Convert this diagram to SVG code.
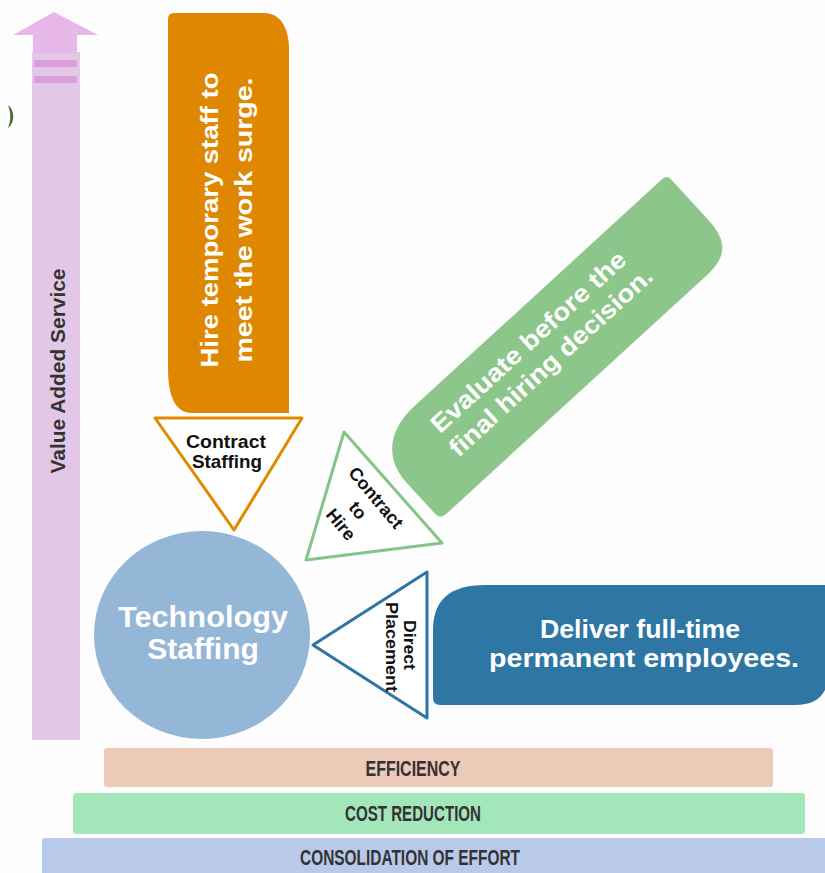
<svg xmlns="http://www.w3.org/2000/svg" width="825" height="873" viewBox="0 0 825 873">
<style>
.w{font-family:"Liberation Sans",Arial,sans-serif;font-weight:bold;fill:#ffffff;text-anchor:middle}
.k{font-family:"Liberation Sans",Arial,sans-serif;font-weight:bold;fill:#111111;text-anchor:middle}
.g{font-family:"Liberation Sans",Arial,sans-serif;font-weight:bold;fill:#333333;text-anchor:middle}
.tri{fill:#ffffff;stroke-width:3;stroke-linejoin:round}
</style>
<rect x="0" y="0" width="825" height="873" fill="#fdfdfd"/>

<g id="value-arrow">
  <rect x="32" y="52" width="48" height="688" fill="#e2c7e6"/>
  <polygon points="13,35 54,12 98,35" fill="#e7b7ea"/>
  <rect x="33" y="35" width="44" height="18" fill="#e7b7ea"/>
  <rect x="34" y="60" width="43" height="7" fill="#db9edb"/>
  <rect x="34" y="76" width="43" height="7" fill="#db9edb"/>
  <text class="g" transform="translate(65,371) rotate(-90)" font-size="20" textLength="205" lengthAdjust="spacingAndGlyphs">Value Added Service</text>
</g>

<g id="edge-mark">
  <path d="M8,105 C15,110 15,123 8,128 C11,120 11,113 8,105 Z" fill="#4e6a2c"/>
</g>

<g id="contract-box">
  <path d="M174,13 H264 C280,13 289,27 289,50 V413 H192 C176,413 168,398 168,368 V19 Q168,13 174,13 Z" fill="#df8700"/>
  <g transform="translate(0,220) rotate(-90)">
    <text class="w" x="0" y="218" font-size="24" textLength="295" lengthAdjust="spacingAndGlyphs">Hire temporary staff to</text>
    <text class="w" x="0" y="252" font-size="24" textLength="285" lengthAdjust="spacingAndGlyphs">meet the work surge.</text>
  </g>
</g>

<g id="contract-staffing">
  <polygon class="tri" points="155,418 302,418 234,530" stroke="#e08a00"/>
  <text class="k" x="226" y="448" font-size="19" textLength="80" lengthAdjust="spacingAndGlyphs">Contract</text>
  <text class="k" x="227" y="468" font-size="19" textLength="70" lengthAdjust="spacingAndGlyphs">Staffing</text>
</g>

<g id="evaluate-box">
  <g transform="translate(372,445) rotate(-42.5)">
    <path d="M0,52 C0,20 20,0 58,0 H394 Q400,0 400,6 V62 C400,88 390,101 362,101 H8 Q0,101 0,93 Z" fill="#8dc68a"/>
    <text class="w" x="185" y="38" font-size="25" textLength="255" lengthAdjust="spacingAndGlyphs">Evaluate before the</text>
    <text class="w" x="188" y="68" font-size="25" textLength="266" lengthAdjust="spacingAndGlyphs">final hiring decision.</text>
  </g>
</g>

<g id="contract-to-hire">
  <polygon class="tri" points="344,432 306,560 442,543" stroke="#84c487"/>
  <g transform="translate(359,512) rotate(50)">
    <text class="k" x="0" y="-16" font-size="18">Contract</text>
    <text class="k" x="-2" y="6" font-size="18">to</text>
    <text class="k" x="-2" y="28" font-size="18">Hire</text>
  </g>
</g>

<g id="technology-staffing">
  <ellipse cx="202" cy="635" rx="108" ry="104" fill="#94b6d7"/>
  <text class="w" x="203" y="627" font-size="30" textLength="170" lengthAdjust="spacingAndGlyphs">Technology</text>
  <text class="w" x="203" y="659" font-size="30">Staffing</text>
</g>

<g id="direct-placement">
  <polygon class="tri" points="313,645 427,572 427,718" stroke="#2e75a3" stroke-width="2.5"/>
  <g transform="translate(404,645) rotate(90)">
    <text class="k" x="0" y="0" font-size="17" textLength="50" lengthAdjust="spacingAndGlyphs">Direct</text>
    <text class="k" x="2" y="18" font-size="17" textLength="90" lengthAdjust="spacingAndGlyphs">Placement</text>
  </g>
</g>

<g id="deliver-box">
  <path d="M433,630 C433,600 450,585 485,585 H825 V690 C820,700 810,705 795,705 H440 Q433,705 433,698 Z" fill="#2e76a4"/>
  <text class="w" x="640" y="638" font-size="26" textLength="200" lengthAdjust="spacingAndGlyphs">Deliver full-time</text>
  <text class="w" x="644" y="667" font-size="26" textLength="310" lengthAdjust="spacingAndGlyphs">permanent employees.</text>
</g>

<g id="efficiency">
  <rect x="104" y="748" width="669" height="39" rx="3" fill="#edc9b8"/>
  <text class="g" x="413" y="776" font-size="22" textLength="95" lengthAdjust="spacingAndGlyphs">EFFICIENCY</text>
</g>
<g id="cost-reduction">
  <rect x="73" y="793" width="732" height="41" rx="3" fill="#a3e6ba"/>
  <text class="g" x="413" y="821" font-size="22" textLength="136" lengthAdjust="spacingAndGlyphs">COST REDUCTION</text>
</g>
<g id="consolidation">
  <rect x="42" y="838" width="790" height="40" rx="3" fill="#b9c9ea"/>
  <text class="g" x="410" y="865" font-size="22" textLength="220" lengthAdjust="spacingAndGlyphs">CONSOLIDATION OF EFFORT</text>
</g>
<g id="connectors"/>
</svg>
